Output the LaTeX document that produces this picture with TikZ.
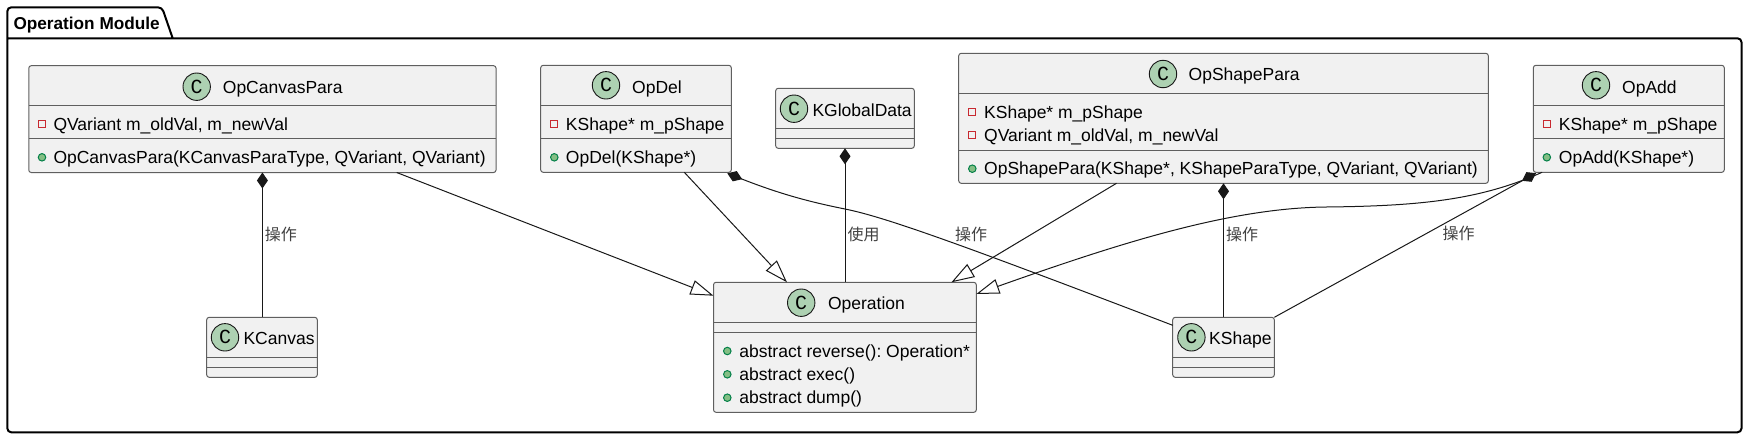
\documentclass[tikz,border=0pt]{standalone}
\usepackage{fontspec}
\setmainfont{Liberation Sans}
\newfontfamily\cjkfont{Noto Sans CJK SC}
\newfontfamily\spotfont{Liberation Mono}
\usepackage{tikz}
\usetikzlibrary{arrows.meta, positioning, shapes.geometric}
\definecolor{boxfill}{HTML}{F1F1F1}
\definecolor{boxline}{HTML}{5F5F5F}
\definecolor{linecol}{HTML}{181818}
\definecolor{spotfill}{HTML}{ADD1B2}
\definecolor{privcol}{HTML}{C82930}
\definecolor{pubfill}{HTML}{84BE84}
\definecolor{pubcol}{HTML}{038048}
\tikzset{
  classbox/.style={draw=boxline, fill=boxfill, rounded corners=2.5pt, line width=1pt,
    inner sep=0pt, outer sep=0pt},
  divider/.style={draw=boxline, line width=1pt},
  spot/.style={circle, draw=linecol, fill=spotfill, line width=.9pt, minimum size=27.4pt,
    inner sep=0pt, font=\spotfont\fontsize{20}{20}\selectfont},
  classname/.style={anchor=base west, inner sep=0pt, font=\fontsize{17.5}{20}\selectfont},
  member/.style={anchor=base west, inner sep=0pt, font=\fontsize{17.5}{20}\selectfont},
  privmark/.style={rectangle, draw=privcol, line width=1pt, minimum size=7pt, inner sep=0pt},
  pubmark/.style={circle, draw=pubcol, fill=pubfill, line width=1pt, minimum size=7.5pt,
    inner sep=0pt},
  edgelabel/.style={inner sep=0pt, text=black!75, font=\cjkfont\fontsize{16}{18}\selectfont},
  frameline/.style={draw=black, line width=2pt, rounded corners=4pt},
  plainedge/.style={draw=linecol, line width=1pt},
  owns/.style={plainedge, {Diamond[length=16pt, width=11pt, fill=linecol]}-},
  extends/.style={plainedge, -{Triangle[open, length=23pt, width=15pt, fill=white]}},
}
\begin{document}
\frenchspacing
\begin{tikzpicture}[x=1pt, y=-1pt]
  \useasboundingbox (0,0) rectangle (1752,440);%

  \draw [frameline] (172.7,38.3) -- (162,7.3) -- (7.3,7.3) -- (7.3,432.3)
  -- (1741.5,432.3) -- (1741.5,38.3) -- (7.3,38.3);%
  \node [anchor=base west, inner sep=0pt, font=\bfseries\fontsize{17.2}{20}\selectfont]
  (pkgname) at (13.3,29.3) {Operation Module};%

  % classes
  \node [classbox, minimum width=467.3pt, minimum height=106.8pt] (canvaspara)
  at (262.4,119.1) {};%
  \draw [divider] (canvaspara.west |- 0,105.5) -- (canvaspara.east |- 0,105.5);%
  \draw [divider] (canvaspara.west |- 0,138.5) -- (canvaspara.east |- 0,138.5);%
  \node [spot] (canvasparaspot) at (196.7,86.7) {C};%
  \node [classname] (canvasparaname) at (222.7,93.3) {OpCanvasPara};%
  \node [privmark] (canvasparapriv) at (42,124.3) {};%
  \node [member] (canvasparaval) at (53.3,130) {QVariant m\_oldVal, m\_newVal};%
  \node [pubmark] (canvasparapub) at (42,157.3) {};%
  \node [member] (canvasparactor) at (53.3,163.3)
  {OpCanvasPara(KCanvasParaType, QVariant, QVariant)};%

  \node [classbox, minimum width=190.6pt, minimum height=107pt] (opdel)
  at (636,118.8) {};%
  \draw [divider] (opdel.west |- 0,105.5) -- (opdel.east |- 0,105.5);%
  \draw [divider] (opdel.west |- 0,138.5) -- (opdel.east |- 0,138.5);%
  \node [spot] (opdelspot) at (606,85.3) {C};%
  \node [classname] (opdelname) at (632,93.3) {OpDel};%
  \node [privmark] (opdelpriv) at (554.3,124.3) {};%
  \node [member] (opdelshape) at (565.7,130) {KShape* m\_pShape};%
  \node [pubmark] (opdelpub) at (554.3,157.3) {};%
  \node [member] (opdelctor) at (565.7,163.3) {OpDel(KShape*)};%

  \node [classbox, minimum width=138.6pt, minimum height=60pt] (globaldata)
  at (845,118.3) {};%
  \draw [divider] (globaldata.west |- 0,128.3) -- (globaldata.east |- 0,128.3);%
  \draw [divider] (globaldata.west |- 0,138.3) -- (globaldata.east |- 0,138.3);%
  \node [spot] (globaldataspot) at (794,108.7) {C};%
  \node [classname] (globaldataname) at (812.3,116) {KGlobalData};%

  \node [classbox, minimum width=529.6pt, minimum height=130pt] (shapepara)
  at (1223.5,118.3) {};%
  \draw [divider] (shapepara.west |- 0,93.3) -- (shapepara.east |- 0,93.3);%
  \draw [divider] (shapepara.west |- 0,150.3) -- (shapepara.east |- 0,150.3);%
  \node [spot] (shapeparaspot) at (1163,74) {C};%
  \node [classname] (shapeparaname) at (1188.5,80.7) {OpShapePara};%
  \node [privmark] (shapeparapriva) at (972.3,112.3) {};%
  \node [member] (shapeparashape) at (984,118) {KShape* m\_pShape};%
  \node [privmark] (shapeparaprivb) at (972.3,135.3) {};%
  \node [member] (shapeparaval) at (984,141) {QVariant m\_oldVal, m\_newVal};%
  \node [pubmark] (shapeparapub) at (972.3,168.7) {};%
  \node [member] (shapeparactor) at (984,174.3)
  {OpShapePara(KShape*, KShapeParaType, QVariant, QVariant)};%

  \node [classbox, minimum width=190.9pt, minimum height=107pt] (opadd)
  at (1628.8,118.8) {};%
  \draw [divider] (opadd.west |- 0,105.5) -- (opadd.east |- 0,105.5);%
  \draw [divider] (opadd.west |- 0,138.5) -- (opadd.east |- 0,138.5);%
  \node [spot] (opaddspot) at (1596,85.3) {C};%
  \node [classname] (opaddname) at (1622,93.3) {OpAdd};%
  \node [privmark] (opaddpriv) at (1546.8,124.3) {};%
  \node [member] (opaddshape) at (1558.7,130) {KShape* m\_pShape};%
  \node [pubmark] (opaddpub) at (1546.8,157.3) {};%
  \node [member] (opaddctor) at (1558.7,163.3) {OpAdd(KShape*)};%

  \node [classbox, minimum width=262.8pt, minimum height=130pt] (operation)
  at (844.9,347.3) {};%
  \draw [divider] (operation.west |- 0,322.3) -- (operation.east |- 0,322.3);%
  \draw [divider] (operation.west |- 0,332.3) -- (operation.east |- 0,332.3);%
  \node [spot] (operationspot) at (801.2,302.7) {C};%
  \node [classname] (operationname) at (827.8,309.3) {Operation};%
  \node [pubmark] (operationpuba) at (727.3,351) {};%
  \node [member] (operationrev) at (739.2,357) {abstract reverse(): Operation*};%
  \node [pubmark] (operationpubb) at (727.3,374.3) {};%
  \node [member] (operationexec) at (739.2,380.3) {abstract exec()};%
  \node [pubmark] (operationpubc) at (727.3,397.7) {};%
  \node [member] (operationdump) at (739.2,403.7) {abstract dump()};%

  \node [classbox, minimum width=110.6pt, minimum height=60pt] (kcanvas)
  at (262,347.3) {};%
  \draw [divider] (kcanvas.west |- 0,357.3) -- (kcanvas.east |- 0,357.3);%
  \draw [divider] (kcanvas.west |- 0,367.3) -- (kcanvas.east |- 0,367.3);%
  \node [spot] (kcanvasspot) at (225,337.3) {C};%
  \node [classname] (kcanvasname) at (243.3,344.3) {KCanvas};%

  \node [classbox, minimum width=101.6pt, minimum height=60pt] (kshape)
  at (1223.5,347.3) {};%
  \draw [divider] (kshape.west |- 0,357.3) -- (kshape.east |- 0,357.3);%
  \draw [divider] (kshape.west |- 0,367.3) -- (kshape.east |- 0,367.3);%
  \node [spot] (kshapespot) at (1191.4,337.3) {C};%
  \node [classname] (kshapename) at (1209,344.7) {KShape};%

  % composition
  \draw [owns] (canvaspara.south) -- node [edgelabel, pos=.43, right, xshift=2pt]
  (canvaslabel) {操作} (canvaspara.south |- kcanvas.north);%
  \draw [owns] (globaldata.south) -- node [edgelabel, pos=.64, right, xshift=2pt]
  (globaldatalabel) {使用} (globaldata.south |- operation.north);%
  \draw [owns] (shapepara.south) -- node [edgelabel, pos=.38, right, xshift=2pt]
  (shapeparalabel) {操作} (kshape.north);%
  \draw [owns] ([xshift=-4pt, yshift=-1pt]opdel.south east) .. controls (780,194) and
  (810,202) .. (845,209) .. controls (885,217) and (960,244) .. ([yshift=-8pt]kshape.north west);%
  \node [edgelabel, anchor=west] (opdellabel) at (955,234) {操作};%
  \draw [owns] ([xshift=2.7pt, yshift=-.8pt]opadd.south west) --
  node [edgelabel, pos=.42, right, xshift=16pt] (opaddlabel) {操作} (kshape.north east);%

  % inheritance
  \draw [extends] ([xshift=134.3pt]canvaspara.south) -- ([yshift=-13.4pt]operation.north west);%
  \draw [extends] ([xshift=48.3pt]opdel.south) -- ([xshift=-57.9pt]operation.north);%
  \draw [extends] ([xshift=-107pt]shapepara.south) -- ([xshift=106.5pt]operation.north);%
  \draw [extends] ([xshift=8.7pt]opadd.south west) .. controls (1480,200) and
  (1420,206) .. (1326,207) .. controls (1230,208) and (1120,243) ..
  ([yshift=-11.7pt]operation.north east);%
\end{tikzpicture}
\end{document}
